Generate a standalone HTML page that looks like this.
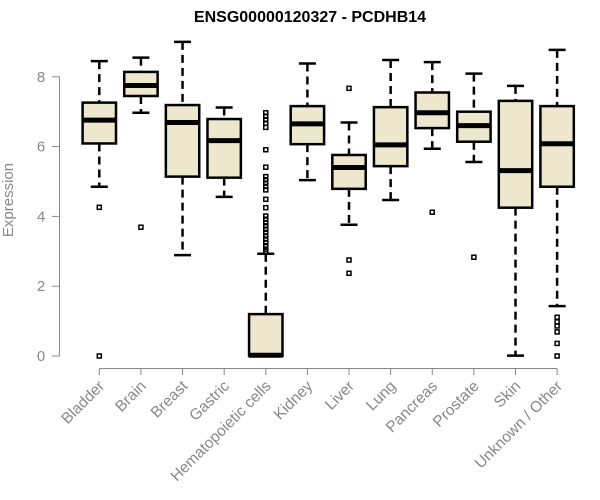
<!DOCTYPE html>
<html><head><meta charset="utf-8"><style>
html,body{margin:0;padding:0;background:#fff;}
svg{display:block;font-family:"Liberation Sans",Arial,sans-serif;}
</style></head><body>
<svg id="chart" width="600" height="500">
<text x="310" y="22" text-anchor="middle" font-weight="bold" font-size="16">ENSG00000120327 - PCDHB14</text>
<text transform="translate(13,200) rotate(-90)" text-anchor="middle" font-size="15" fill="#888">Expression</text>
<g id="yaxis"></g>
<g id="xaxis"></g>
<g id="boxes"></g>
</svg>
<script>
const categories=["Bladder","Brain","Breast","Gastric","Hematopoietic cells","Kidney","Liver","Lung","Pancreas","Prostate","Skin","Unknown / Other"];
const whiskerLow=[4.85,6.97,2.89,4.56,0,5.04,3.76,4.47,5.94,5.56,0.01,1.43];
const q1=[6.09,7.45,5.14,5.11,0,6.07,4.79,5.44,6.53,6.14,4.25,4.85];
const median=[6.76,7.75,6.69,6.17,0.02,6.65,5.40,6.05,6.97,6.60,5.31,6.08];
const q3=[7.26,8.14,7.19,6.79,1.2,7.16,5.76,7.13,7.55,7.00,7.31,7.16];
const whiskerHigh=[8.45,8.55,9.0,7.12,2.93,8.38,6.69,8.48,8.42,8.09,7.74,8.77];
const outliers=[[4.26,0],[3.69],[],[],[6.97,6.87,6.77,6.67,6.55,5.91,5.41,5.14,5.05,4.95,4.86,4.76,4.49,4.25,4.01,3.92,3.82,3.73,3.63,3.54,3.44,3.35,3.25,3.16,3.06,3.0],[],[7.67,2.75,2.37],[],[4.12],[2.83],[],[1.11,0.98,0.86,0.69,0.36,0]];
const yTicks=[0,2,4,6,8];
const NS="http://www.w3.org/2000/svg";
function X(i){return 99.3+41.62*i;}
function Y(v){return 356-34.9*v;}
function mk(tag,attrs,parent){const e=document.createElementNS(NS,tag);for(const k in attrs)e.setAttribute(k,attrs[k]);parent.appendChild(e);return e;}
const ya=document.getElementById('yaxis'),xa=document.getElementById('xaxis'),bx=document.getElementById('boxes');
let l=mk('line',{x1:59.5,x2:59.5,y1:Y(8),y2:Y(0),stroke:'#888'},ya);


yTicks.forEach(t=>{
 const tk=mk('line',{x1:52,x2:59.5,y1:Y(t),y2:Y(t),stroke:'#888'},ya);
 
 
 const tx=mk('text',{x:41,y:Y(t)+5,'text-anchor':'middle','font-size':15,fill:'#888'},ya);
 tx.textContent=t;
 
 
});
l=mk('line',{x1:X(0),x2:X(categories.length-1),y1:368.5,y2:368.5,stroke:'#888'},xa);


categories.forEach((c,i)=>{
 const x=X(i);
 const tk=mk('line',{x1:x,x2:x,y1:368.5,y2:375,stroke:'#888'},xa);
 
 
 const tx=mk('text',{transform:`translate(${x+6},387) rotate(-45)`,'text-anchor':'end','font-size':15.5,fill:'#888'},xa);
 tx.textContent=c;
 
 
 const g=mk('g',{},bx);
 
 
 const hw=16.7;
 mk('line',{x1:x,x2:x,y1:Y(whiskerHigh[i]),y2:Y(q3[i]),stroke:'#000','stroke-width':2.5,'stroke-dasharray':'8,5'},g);
 mk('line',{x1:x,x2:x,y1:Y(q1[i]),y2:Y(whiskerLow[i]),stroke:'#000','stroke-width':2.5,'stroke-dasharray':'8,5'},g);
 mk('line',{x1:x-8.5,x2:x+8.5,y1:Y(whiskerHigh[i]),y2:Y(whiskerHigh[i]),stroke:'#000','stroke-width':2.5},g);
 mk('line',{x1:x-8.5,x2:x+8.5,y1:Y(whiskerLow[i]),y2:Y(whiskerLow[i]),stroke:'#000','stroke-width':2.5},g);
 mk('rect',{x:x-hw,y:Y(q3[i]),width:hw*2,height:Math.max(Y(q1[i])-Y(q3[i]),0.5),fill:'#EDE7CD',stroke:'#000','stroke-width':2.5},g);
 mk('line',{x1:x-hw,x2:x+hw,y1:Y(median[i]),y2:Y(median[i]),stroke:'#000','stroke-width':5},g);
 outliers[i].forEach(v=>{
  const p=mk('rect',{x:x-2,y:Y(v)-2,width:4,height:4,fill:'none',stroke:'#000','stroke-width':1.5},g);
  
  
 });
});
</script>
</body></html>
